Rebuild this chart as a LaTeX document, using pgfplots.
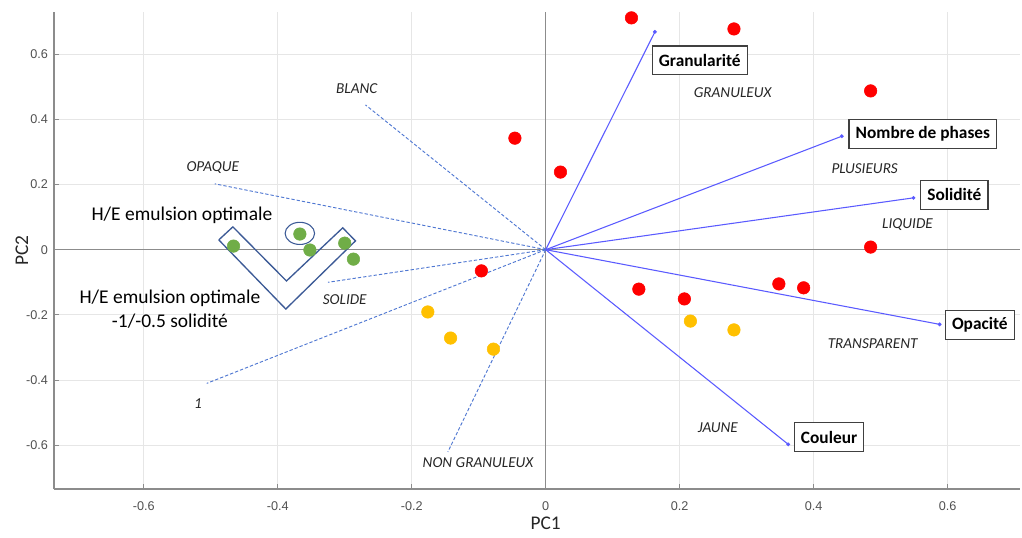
\documentclass[border=0pt]{standalone}
\usepackage{fontspec}
\setmainfont{Carlito}
\newfontfamily\arialfont{Liberation Sans}
\usepackage{pgfplots}
\pgfplotsset{compat=1.18}
\definecolor{ptred}{RGB}{255,0,0}
\definecolor{ptorange}{RGB}{255,192,0}
\definecolor{ptgreen}{RGB}{112,173,71}
\definecolor{vecblue}{RGB}{90,90,255}
\definecolor{dashblue}{RGB}{80,120,210}
\definecolor{vblue}{RGB}{60,90,150}
\definecolor{gridgray}{RGB}{230,230,230}
\definecolor{axgray}{RGB}{140,140,140}
\definecolor{tickgray}{RGB}{80,80,80}
\begin{document}
\begin{tikzpicture}
\begin{axis}[
  width=724.5pt, height=357.75pt, scale only axis,
  xmin=-0.734, xmax=0.708, ymin=-0.734, ymax=0.729,
  axis x line*=bottom, axis y line*=left,
  axis line style={axgray, line width=0.9pt},
  tick align=inside, major tick length=4pt,
  tick style={axgray, line width=0.8pt},
  xtick={-0.6,-0.4,-0.2,0,0.2,0.4,0.6},
  xticklabels={-0.6,-0.4,-0.2,0,0.2,0.4,0.6},
  ytick={-0.6,-0.4,-0.2,0,0.2,0.4,0.6},
  yticklabels={-0.6,-0.4,-0.2,0,0.2,0.4,0.6},
  ticklabel style={font=\arialfont\fontsize{9.5}{11}\selectfont, text=tickgray},
  xticklabel style={yshift=-6pt},
  yticklabel style={xshift=-1pt},
  grid=major, grid style={gridgray, line width=0.8pt},
  clip=false,
]
% zero lines
\draw[axgray, line width=1.1pt] (axis cs:-0.734,0) -- (axis cs:0.708,0);
\draw[axgray, line width=1.1pt] (axis cs:0,-0.734) -- (axis cs:0,0.729);

% points
\addplot[only marks, mark=*, mark size=4.7pt, ptred, mark options={draw=ptred, fill=ptred}] coordinates {
(0.128,0.711) (0.281,0.677) (0.485,0.487) (-0.046,0.342) (0.022,0.238)
(0.485,0.008) (-0.096,-0.065) (0.139,-0.121) (0.207,-0.151) (0.348,-0.105) (0.385,-0.117)};
\addplot[only marks, mark=*, mark size=4.7pt, ptorange, mark options={draw=ptorange, fill=ptorange}] coordinates {
(-0.176,-0.191) (-0.142,-0.271) (-0.078,-0.305) (0.216,-0.219) (0.281,-0.246)};
\addplot[only marks, mark=*, mark size=4.7pt, ptgreen, mark options={draw=ptgreen, fill=ptgreen}] coordinates {
(-0.466,0.011) (-0.367,0.048) (-0.352,-0.001) (-0.300,0.020) (-0.287,-0.029)};

% dashed supplementary vectors
\addplot[dashblue, line width=0.7pt, dash pattern=on 2.5pt off 1.5pt] coordinates {(0,0) (-0.269,0.444)};
\addplot[dashblue, line width=0.7pt, dash pattern=on 2.5pt off 1.5pt] coordinates {(0,0) (-0.494,0.202)};
\addplot[dashblue, line width=0.7pt, dash pattern=on 2.5pt off 1.5pt] coordinates {(0,0) (-0.325,-0.100)};
\addplot[dashblue, line width=0.7pt, dash pattern=on 2.5pt off 1.5pt] coordinates {(0,0) (-0.506,-0.410)};
\addplot[dashblue, line width=0.7pt, dash pattern=on 2.5pt off 1.5pt] coordinates {(0,0) (-0.146,-0.620)};

% solid variable vectors
\addplot[vecblue, line width=0.8pt, mark=*, mark size=1pt, mark indices={2}] coordinates {(0,0) (0.163,0.668)};
\addplot[vecblue, line width=0.8pt, mark=*, mark size=1pt, mark indices={2}] coordinates {(0,0) (0.442,0.348)};
\addplot[vecblue, line width=0.8pt, mark=*, mark size=1pt, mark indices={2}] coordinates {(0,0) (0.549,0.159)};
\addplot[vecblue, line width=0.8pt, mark=*, mark size=1pt, mark indices={2}] coordinates {(0,0) (0.588,-0.229)};
\addplot[vecblue, line width=0.8pt, mark=*, mark size=1pt, mark indices={2}] coordinates {(0,0) (0.362,-0.597)};

% V shape and ellipse
\addplot[vblue, line width=1pt] coordinates {
(-0.488,0.030) (-0.467,0.070) (-0.387,-0.096) (-0.303,0.067) (-0.284,0.027) (-0.388,-0.182) (-0.488,0.030)};
\draw[vblue, line width=0.8pt] (axis cs:-0.367,0.050) ellipse [x radius=0.022, y radius=0.034];

% italic modality labels
\begin{scope}[every node/.style={font=\itshape\fontsize{11.4}{13}\selectfont, text=black!85}]
\node at (axis cs:-0.282,0.493) {BLANC};
\node at (axis cs:-0.497,0.253) {OPAQUE};
\node at (axis cs:-0.300,-0.154) {SOLIDE};
\node at (axis cs:-0.519,-0.473) {1};
\node at (axis cs:-0.101,-0.654) {NON GRANULEUX};
\node at (axis cs:0.279,0.481) {GRANULEUX};
\node at (axis cs:0.476,0.250) {PLUSIEURS};
\node at (axis cs:0.540,0.076) {LIQUIDE};
\node at (axis cs:0.488,-0.289) {TRANSPARENT};
\node at (axis cs:0.257,-0.547) {JAUNE};
\end{scope}

% boxed variable labels
\begin{scope}[every node/.style={draw=black!75, line width=0.9pt, fill=white, font=\bfseries\fontsize{13}{15}\selectfont, inner xsep=5pt, minimum height=21.5pt}]
\node at (axis cs:0.230,0.581) {Granularité};
\node at (axis cs:0.563,0.355) {Nombre de phases};
\node at (axis cs:0.610,0.168) {Solidité};
\node at (axis cs:0.648,-0.231) {Opacité};
\node at (axis cs:0.423,-0.575) {Couleur};
\end{scope}

% annotations
\node[font=\fontsize{14.6}{18}\selectfont] at (axis cs:-0.543,0.106) {H/E emulsion optimale};
\node[font=\fontsize{14.6}{18}\selectfont, align=center] at (axis cs:-0.561,-0.182) {H/E emulsion optimale\\-1/-0.5 solidité};

% axis label
\node[font=\fontsize{14.5}{16}\selectfont, text=black!85] at (axis cs:0,-0.734) [yshift=-26pt] {PC1};
\end{axis}
\node[font=\fontsize{14.5}{16}\selectfont, text=black!85, rotate=90] at ([xshift=-24pt]current axis.west) {PC2};
\pgfresetboundingbox
\path ([shift={(-40.5pt,-36pt)}]current axis.south west) rectangle ([shift={(1.5pt,9pt)}]current axis.north east);
\end{tikzpicture}
\end{document}
